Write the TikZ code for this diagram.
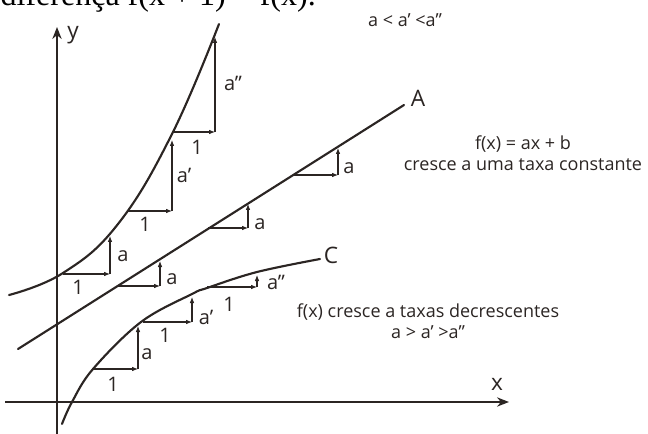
\documentclass[tikz,border=0pt]{standalone}
\usepackage{fontspec}
\setmainfont{Open Sans}
\newfontfamily\serifa{Liberation Serif}
\usepackage{tikz}
\usetikzlibrary{arrows.meta,positioning}
\definecolor{Tinta}{HTML}{2B2523}

\tikzset{
  eixo/.style={draw=Tinta,line width=1.1pt,-{Stealth[length=9pt,width=7pt]}},
  curva/.style={draw=Tinta,line width=1.6pt,line cap=round},
  passo/.style={draw=Tinta,line width=0.8pt,-{Latex[length=4.5pt,width=3.5pt]}},
  rot/.style={text=Tinta,font=\fontsize{15}{17}\selectfont,inner sep=1pt},
  texto/.style={text=Tinta,font=\fontsize{13.5}{16}\selectfont,align=center,inner sep=0pt},
  letra/.style={text=Tinta,font=\fontsize{17}{19}\selectfont,inner sep=0pt},
}

% um degrau: horizontal de 1 e subida ate a curva
\newcommand{\degrau}[5]{%
  \coordinate (#1i) at (#2,#3);
  \coordinate (#1c) at (#4,#3);
  \coordinate (#1f) at (#4,#5);
  \draw[passo] (#1i) -- (#1c);
  \draw[passo] (#1c) -- (#1f);}

\begin{document}
\begin{tikzpicture}[x=0.75pt,y=-0.75pt]
  \useasboundingbox (0,0) rectangle (648,434);
  \clip (0,0) rectangle (648,434);

  % texto cortado no topo
  \node[anchor=base east,inner sep=0pt,font=\serifa\fontsize{24}{24}\selectfont] (topo) at (316,6) {diferença f(x + 1) − f(x).};

  % eixos
  \coordinate (oy) at (57,436);
  \coordinate (ty) at (57,27);
  \coordinate (ox) at (5,402);
  \coordinate (tx) at (509,402);
  \draw[eixo] (oy) -- (ty);
  \draw[eixo] (ox) -- (tx);
  \node[letra] (ly) at (73,35) {y};
  \node[letra] (lx) at (497,384) {x};

  % curva B (taxas crescentes)
  \draw[curva] plot[smooth,tension=0.7] coordinates
    {(9,295) (63,273) (118,224) (172,134) (219,24)};
  \degrau{b1}{63}{274}{110}{236}
  \degrau{b2}{128}{211}{172}{140}
  \degrau{b3}{172}{132}{215}{37}
  \node[rot] (b1um) at (78,287) {1};
  \node[rot] (b1a) at (123,256) {a};
  \node[rot] (b2um) at (145,224) {1};
  \node[rot] (b2a) at (184,175) {a’};
  \node[rot] (b3um) at (197,147) {1};
  \node[rot] (b3a) at (233,83) {a”};

  % reta A
  \coordinate (a0) at (18,349);
  \coordinate (a1) at (404,105);
  \draw[curva] (a0) -- (a1);
  \node[letra] (la) at (418,98) {A};
  \degrau{r1}{118}{286}{160}{261}
  \degrau{r2}{208}{228}{248}{204}
  \degrau{r3}{293}{175}{338}{148}
  \node[rot] (r1a) at (172,279) {a};
  \node[rot] (r2a) at (260,224) {a};
  \node[rot] (r3a) at (349,168) {a};

  % curva C (taxas decrescentes)
  \draw[curva] plot[smooth,tension=0.6] coordinates
    {(62,424) (72,402) (93,369) (141,322) (192,294) (207,288) (257,272) (320,259)};
  \node[letra] (lc) at (331,255) {C};
  \degrau{c1}{93}{369}{138}{326}
  \degrau{c2}{143}{322}{192}{297}
  \degrau{c3}{207}{287}{257}{275}
  \node[rot] (c1um) at (113,384) {1};
  \node[rot] (c1a) at (147,354) {a};
  \node[rot] (c2um) at (165,335) {1};
  \node[rot] (c2a) at (206,317) {a’};
  \node[rot] (c3um) at (229,304) {1};
  \node[rot] (c3a) at (276,282) {a”};

  % textos
  \node[texto] (ordem) at (405,20) {a < a' <a''};
  \node[texto] (linear) at (523,153) {f(x) = ax + b\\cresce a uma taxa constante};
  \node[texto] (concava) at (428,321) {f(x) cresce a taxas decrescentes\\a > a’ >a”};
\end{tikzpicture}
\end{document}
